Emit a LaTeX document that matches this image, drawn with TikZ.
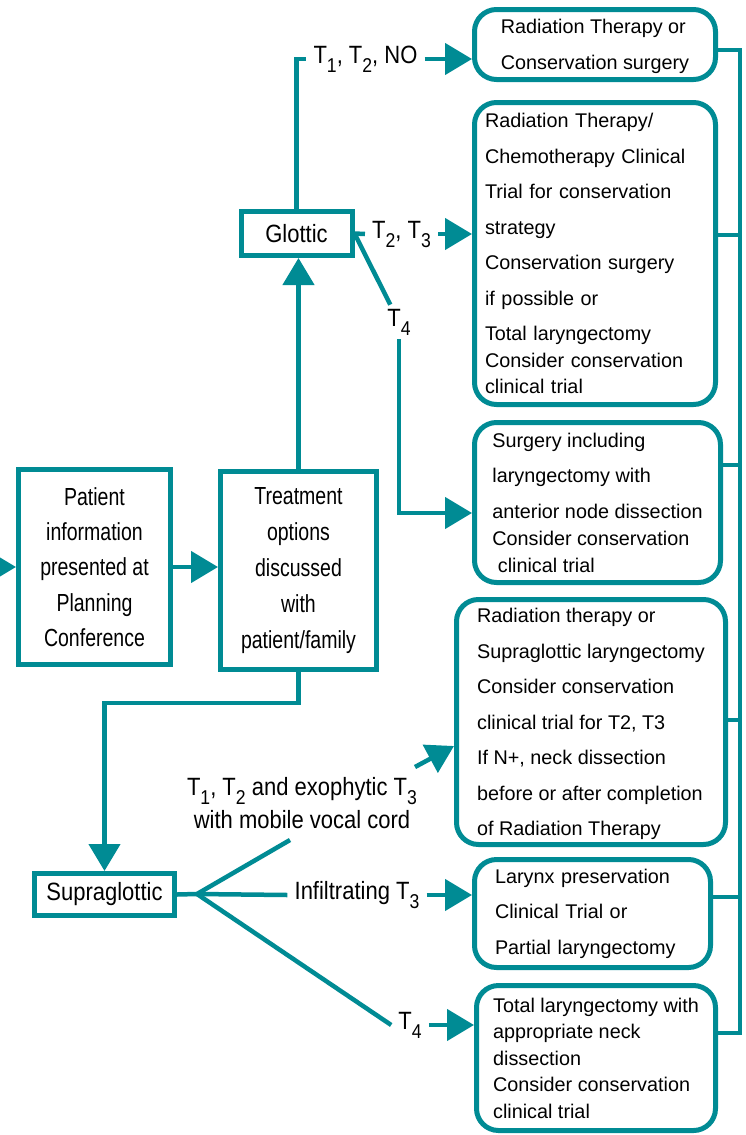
\documentclass[tikz,border=0pt]{standalone}
\usepackage{fontspec}
\setmainfont{Liberation Sans}
\newfontfamily\condfont[FakeStretch=0.79]{Liberation Sans}
\newfontfamily\labfont[FakeStretch=0.88]{Liberation Sans}
\usetikzlibrary{arrows.meta,calc}
\definecolor{tealline}{RGB}{0,139,148}
\newcommand{\tsub}[1]{\raisebox{-0.36em}{\scalebox{0.8}{#1}}}

\tikzset{
  flow/.style={draw=tealline, line width=4.5pt},
  arr/.style={flow, -{Triangle[length=27pt,width=31pt]}},
  sqbox/.style={draw=tealline, line width=5pt, fill=white, inner sep=0pt, align=center},
  rbox/.style={draw=tealline, line width=5pt, rounded corners=22pt, fill=white, inner sep=0pt,
    align=left, font=\fontsize{19.8}{35.5}\selectfont},
  lab/.style={inner xsep=7pt, inner ysep=4pt, align=center, font=\labfont\fontsize{25}{33}\selectfont}
}

\begin{document}
\begin{tikzpicture}[x=1pt,y=-1pt]
    \clip (0,0) rectangle (746,1135);

    % Planning boxes
    \node[sqbox, minimum width=152pt, minimum height=195pt, font=\condfont\fontsize{24.7}{35.3}\selectfont]
        (pat) at (94.5,567) {Patient\\information\\presented at\\Planning\\Conference};
    \node[sqbox, minimum width=156pt, minimum height=198pt, font=\condfont\fontsize{24.7}{35.8}\selectfont]
        (treat) at (298.5,570.5) {Treatment\\options\\discussed\\with\\patient/family};
    \node[sqbox, minimum width=111pt, minimum height=44pt, font=\labfont\fontsize{25}{30}\selectfont]
        (glot) at (296.5,233.5) {Glottic};
    \node[sqbox, minimum width=140pt, minimum height=42pt, font=\labfont\fontsize{25}{30}\selectfont]
        (sup) at (104.5,894.5) {Supraglottic};

    % Treatment boxes
    \node[rbox, text depth=0pt, minimum width=241pt, minimum height=70pt] (b1) at (595,44.5)
        {Radiation Therapy or\\Conservation surgery};
    \node[rbox, minimum width=241pt, minimum height=302pt, text width=220pt] (b2) at (595,253.5)
        {Radiation Therapy/\\Chemotherapy Clinical\\Trial for conservation\\strategy\\Conservation surgery\\if possible or\\Total laryngectomy\\[-9pt]Consider conservation\\[-9pt]clinical trial};
    \node[rbox, text depth=0pt, minimum width=246pt, minimum height=160pt] (b3) at (597.5,502.5)
        {Surgery including\\laryngectomy with\\anterior node dissection\\[-8.5pt]Consider conservation\\[-8.5pt]\ clinical trial};
    \node[rbox, text depth=0pt, minimum width=269pt, minimum height=245pt] (b4) at (591,722)
        {Radiation therapy or\\Supraglottic laryngectomy\\Consider conservation\\clinical trial for T2, T3\\If N+, neck dissection\\before or after completion\\of Radiation Therapy};
    \node[rbox, minimum width=236pt, minimum height=108pt, text width=195pt] (b5) at (592.5,913.5)
        {Larynx preservation\\Clinical Trial or\\Partial laryngectomy};
    \node[rbox, text depth=0pt, minimum width=239pt, minimum height=145pt, font=\fontsize{19.8}{26.5}\selectfont] (b6) at (596,1058)
        {Total laryngectomy with\\appropriate neck\\dissection\\Consider conservation\\clinical trial};

    % Stage labels
    \node[lab] (t12n) at (365.5,59) {T\tsub{1}, T\tsub{2}, NO};
    \node[lab] (t23) at (401.5,234) {T\tsub{2}, T\tsub{3}};
    \node[lab] (gt4) at (399,322) {T\tsub{4}};
    \node[lab] (exo) at (302,803) {T\tsub{1}, T\tsub{2} and exophytic T\tsub{3}\\with mobile vocal cord};
    \node[lab] (inf) at (357,895) {Infiltrating T\tsub{3}};
    \node[lab] (st4) at (410,1025) {T\tsub{4}};

    % Main flow
    \coordinate (in) at (-30,567);
    \draw[arr] (in) -- (pat.west);
    \draw[arr] (pat.east) -- (pat.east -| treat.west);
    \draw[arr] (treat.north) -- (treat.north |- glot.south);
    \draw[arr] (treat.south) -- ++(0,31) -| (sup.north);

    % Glottic branches
    \draw[flow] (glot.north) |- (t12n.west);
    \draw[arr] (t12n.east) -- (t12n.east -| b1.west);
    \draw[flow] (glot.east) -- (t23.west);
    \draw[arr] (t23.east) -- (t23.east -| b2.west);
    \draw[flow] (glot.east) -- (gt4);
    \draw[arr] (gt4.south) |- ([yshift=-10.5pt]b3.west);

    % Supraglottic branches
    \coordinate (br) at (197,894);
    \coordinate (c1) at (290,840);
    \coordinate (c2) at (415,767);
    \draw[flow] (sup.east) -- (br);
    \draw[flow] (br) -- (c1);
    \draw[arr] (c2) -- ([yshift=-24pt]b4.west);
    \draw[flow] (br) -- (inf.west);
    \draw[arr] (inf.east) -- (inf.east -| b5.west);
    \draw[flow] (br) -- (st4.west);
    \draw[arr] (st4.east) -- (st4.east -| b6.west);

    % Bus on the right
    \coordinate (bt) at (740,50);
    \coordinate (bb) at (740,1033);
    \draw[flow, line width=4pt] (b1.east |- bt) -- (bt) -- (bb) -- (b6.east |- bb);
    \foreach \b/\y in {b2/235, b3/465, b4/720, b5/897}
        \draw[flow, line width=4pt] (\b.east |- 0,\y) -- (bt |- 0,\y);
\end{tikzpicture}
\end{document}
